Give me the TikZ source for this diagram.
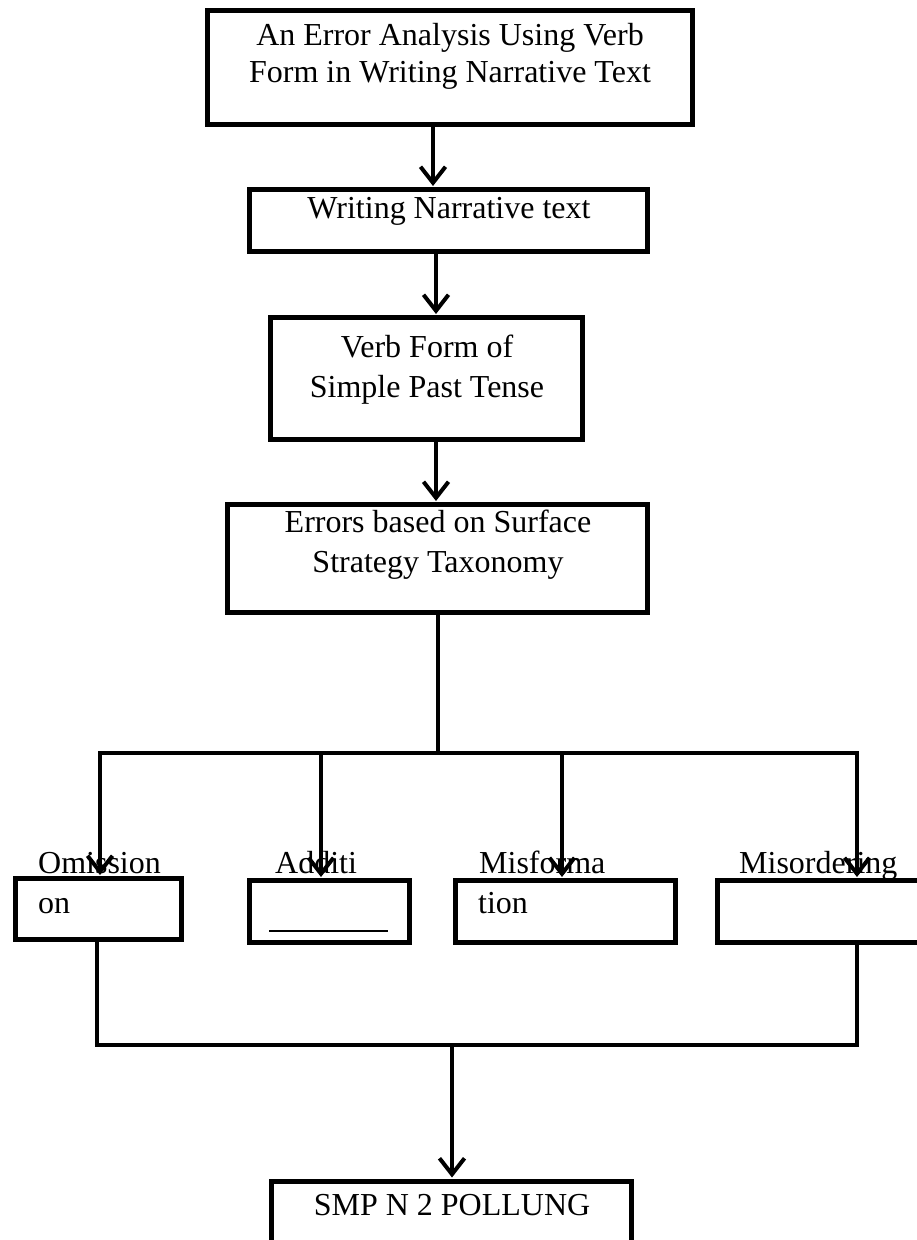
\documentclass[tikz,border=0pt]{standalone}
\usepackage{fontspec}
\setmainfont{Liberation Serif}
\usetikzlibrary{arrows.meta}
\tikzset{
  box/.style={draw=black, line width=5pt, rectangle, inner sep=0pt},
  txt/.style={font=\fontsize{32}{37}\selectfont, inner sep=0pt, anchor=base},
  txtl/.style={font=\fontsize{32}{37}\selectfont, inner sep=0pt, anchor=base west},
  conn/.style={draw=black, line width=4pt},
  arr/.style={conn, -{Straight Barb[length=16pt, width=25pt, line width=4pt]}, shorten >=1pt},
}
\begin{document}
\begin{tikzpicture}[x=1pt, y=-1pt]
\useasboundingbox (0,0) rectangle (916,1240);
% main boxes
\node[box, minimum width=485pt, minimum height=114pt] (b1) at (450,67.5) {};
\node[txt] (t1a) at (450,45) {An Error Analysis Using Verb};
\node[txt] (t1b) at (450,82) {Form in Writing Narrative Text};
\node[box, minimum width=398pt, minimum height=62pt] (b2) at (448.5,220.5) {};
\node[txt] (t2) at (449,218) {Writing Narrative text};
\node[box, minimum width=312pt, minimum height=122pt] (b3) at (426.5,378.5) {};
\node[txt] (t3a) at (427,357) {Verb Form of};
\node[txt] (t3b) at (427,397) {Simple Past Tense};
\node[box, minimum width=420pt, minimum height=108pt] (b4) at (437.5,558.5) {};
\node[txt] (t4a) at (438,532) {Errors based on Surface};
\node[txt] (t4b) at (438,572) {Strategy Taxonomy};
% category boxes
\node[box, minimum width=166pt, minimum height=61pt] (c1) at (98.5,909) {};
\node[box, minimum width=160pt, minimum height=62pt] (c2) at (329.5,911.5) {};
\node[box, minimum width=220pt, minimum height=62pt] (c3) at (565.5,911.5) {};
\node[box, minimum width=212pt, minimum height=62pt] (c4) at (823.5,911.5) {};
\node[txtl] (l1a) at (38,873) {Omission};
\node[txtl] (l1b) at (38,913) {on};
\node[txtl] (l2a) at (275,873) {Additi};
\node[txtl] (l3a) at (479,873) {Misforma};
\node[txtl] (l3b) at (478,913) {tion};
\node[txtl] (l4a) at (739,873) {Misordering};
\coordinate (u1) at (269,931);
\coordinate (u2) at (388,931);
\draw[line width=2.5pt] (u1) -- (u2);
% final box
\node[box, minimum width=360pt, minimum height=120pt] (f) at (451.5,1241) {};
\node[txt] (tf) at (452,1215) {SMP N 2 POLLUNG};
% x positions
\coordinate (x1) at (433,0);
\coordinate (x2) at (436,0);
\coordinate (x3) at (436,0);
\coordinate (xs) at (437.5,0);
\coordinate (d1) at (100,0);
\coordinate (d2) at (321,0);
\coordinate (d3) at (562,0);
\coordinate (d4) at (857,0);
\coordinate (hy) at (0,753);
\coordinate (hL) at (98,753);
\coordinate (hR) at (859,753);
\coordinate (e1) at (97,0);
\coordinate (e4) at (857,0);
\coordinate (ly) at (0,1045);
\coordinate (xf) at (452,0);
% connectors
\draw[arr] (x1 |- b1.south) -- (x1 |- b2.north);
\draw[arr] (x2 |- b2.south) -- (x2 |- b3.north);
\draw[arr] (x3 |- b3.south) -- (x3 |- b4.north);
\draw[conn] (xs |- b4.south) -- (xs |- hy);
\draw[conn] (hL) -- (hR);
\draw[arr] (d1 |- hy) -- (d1 |- c1.north);
\draw[arr] (d2 |- hy) -- (d2 |- c2.north);
\draw[arr] (d3 |- hy) -- (d3 |- c3.north);
\draw[arr] (d4 |- hy) -- (d4 |- c4.north);
\draw[conn, line join=miter] (e1 |- c1.south) -- (e1 |- ly) -- (e4 |- ly) -- (e4 |- c4.south);
\draw[arr] (xf |- ly) -- (xf |- f.north);
\end{tikzpicture}
\end{document}
